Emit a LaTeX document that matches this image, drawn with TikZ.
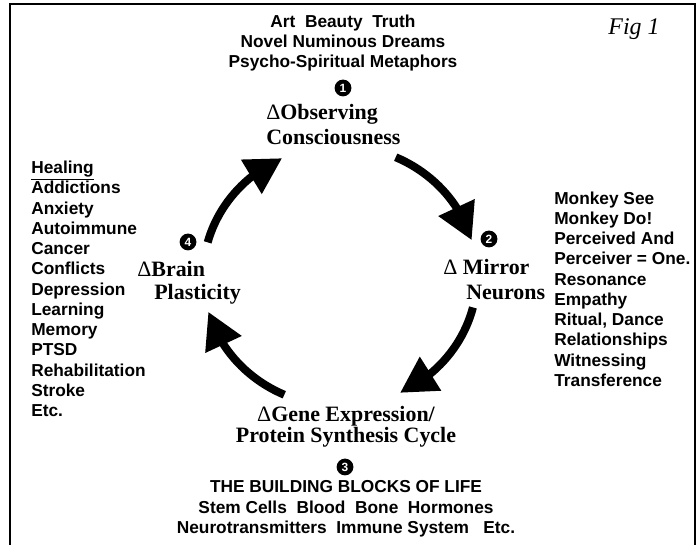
\documentclass[tikz,border=0pt]{standalone}
\usepackage{fontspec}
\setmainfont{Liberation Serif}
\setsansfont{Liberation Sans}
\usetikzlibrary{calc}
\usetikzlibrary{arrows.meta,bending}

\tikzset{
  list/.style={font=\sffamily\bfseries\fontsize{12.3}{14.4}\selectfont, inner sep=0pt},
  stage/.style={font=\bfseries\fontsize{15.6}{17.8}\selectfont, inner sep=0pt, align=left},
  num/.style={circle, fill=black, text=white, inner sep=0pt, minimum size=0.42cm,
    font=\sffamily\bfseries\fontsize{8.5}{8.5}\selectfont},
  cyc/.style={line width=0.2cm, -{Triangle[length=0.9cm,width=0.95cm]}}
}
\newcommand{\dlt}{{\mdseries\char"0394}}

\begin{document}
\begin{tikzpicture}[x=0.025cm,y=0.025cm]
    \useasboundingbox (0,0) rectangle (697,545);
    % Border.
    \draw[line width=1pt] (10,0) |- (695,541) -- (695,0);
    \node[font=\itshape\fontsize{17}{17}\selectfont] (fig) at (634,516) {Fig 1};
    % Stages.
    \node[list, align=center] (arts) at (343,502)
      {Art\ \ Beauty\ \ Truth\\Novel Numinous Dreams\\Psycho-Spiritual Metaphors};
    \node[num] (n1) at (343,457) {1};
    \node[stage, anchor=west] (obs) at (266,420) {\dlt Observing\\Consciousness};
    \node[num] (n2) at (489,306) {2};
    \node[stage, anchor=west] (mir) at (443,265) {\dlt\ Mirror\\\hspace*{0.575cm}Neurons};
    \node[stage, align=center, font=\bfseries\fontsize{15.6}{15}\selectfont] (gene) at (346,118)
      {\dlt Gene Expression/\\Protein Synthesis Cycle};
    \node[num] (n3) at (345,78) {3};
    \node[list, align=center] (life) at (346,36)
      {THE BUILDING BLOCKS OF LIFE\\Stem Cells\ \ Blood\ \ Bone\ \ Hormones\\
       Neurotransmitters\ \ Immune System\ \ \ Etc.};
    \node[num] (n4) at (188,303) {4};
    \node[stage, anchor=west, font=\bfseries\fontsize{15.6}{16}\selectfont] (brain) at (137,262)
      {\dlt Brain\\\hspace*{0.425cm}Plasticity};
    % Lists.
    \node[list, align=left, anchor=west] (mirlist) at (554,256)
      {Monkey See\\Monkey Do!\\Perceived And\\Perceiver = One.\\Resonance\\Empathy\\
       Ritual, Dance\\Relationships\\Witnessing\\Transference};
    \node[list, align=left, anchor=west] (heal) at (31,256)
      {\underline{Healing}\\Addictions\\Anxiety\\Autoimmune\\Cancer\\Conflicts\\Depression\\
       Learning\\Memory\\PTSD\\Rehabilitation\\Stroke\\Etc.};
    % Cycle arrows.
    \coordinate (c) at (340,269);
    \foreach \a in {66,-14,-114,165}
      \draw[cyc] ($(c)+(\a:137 and 130)$) arc[start angle=\a, delta angle=-50, x radius=137, y radius=130];
\end{tikzpicture}
\end{document}
